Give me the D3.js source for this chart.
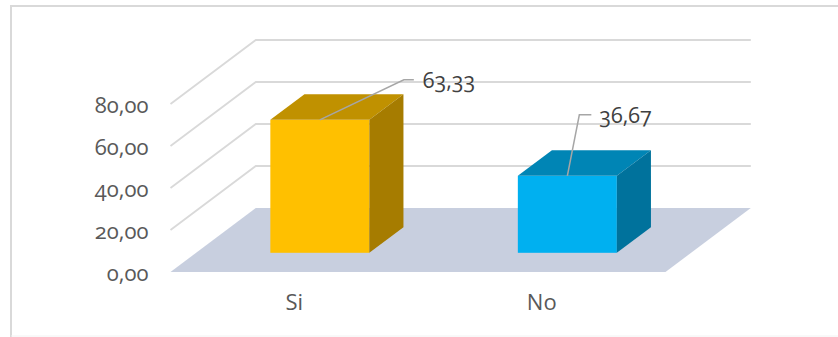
<!DOCTYPE html>
<html>
<head>
<meta charset="utf-8">
<script src="https://cdn.jsdelivr.net/npm/d3@7"></script>
<style>
  html, body { margin: 0; padding: 0; background: #fff; }
  svg { display: block; }
  text { font-family: "Open Sans", "Noto Sans", sans-serif; font-variant-numeric: oldstyle-nums; font-feature-settings: "onum"; }
</style>
</head>
<body>
<div id="bar_chart"></div>
<script>
const categories = ["Si", "No"];
const values = [63.33, 36.67];
const barColors = ["#ffc000", "#00b0f0"];
const barTopColors = ["#c09100", "#0085b5"];
const barSideColors = ["#a67c00", "#00729c"];
const yTicks = [0, 20, 40, 60, 80];

const w = 838, h = 337;

// floor corner and the depth vector of the 3d box
const left = 170.5, right = 665.5, base = 272, top80 = 104;
const depthX = 85.3, depthY = -64;
const barShift = 0.3, barDepth = 0.4;

const svg = d3.select("#bar_chart").append("svg")
  .attr("width", w)
  .attr("height", h);

// chart frame
svg.append("path")
  .attr("d", "M11,337V6H838")
  .attr("fill", "none")
  .attr("stroke", "#d9d9d9")
  .attr("stroke-width", 2);
svg.append("line")
  .attr("x1", 11).attr("x2", w)
  .attr("y1", 336).attr("y2", 336)
  .attr("stroke", "#f2f2f2");

const x = d3.scaleBand().domain(categories).range([left, right]);
const y = d3.scaleLinear().domain([0, 80]).range([base, top80]);
const barWidth = x.bandwidth() / 2.5;

const comma = d3.formatLocale({ decimal: ",", thousands: ".", grouping: [3], currency: ["", ""] });
const fmt = comma.format(".2f");

// floor
svg.append("path")
  .attr("d", d3.line()([
    [left, base], [left + depthX, base + depthY],
    [right + depthX, base + depthY], [right, base]
  ]) + "Z")
  .attr("fill", "#c8cfdf");

// side wall and back wall gridlines
const grid = svg.append("g")
  .attr("fill", "none")
  .attr("stroke", "#d9d9d9")
  .attr("stroke-width", 1.8);

grid.selectAll("path")
  .data(yTicks.filter(d => d > 0))
  .join("path")
  .attr("d", d => d3.line()([
    [left, y(d)], [left + depthX, y(d) + depthY], [right + depthX, y(d) + depthY]
  ]));

// y axis
const yAxis = d3.axisLeft(y).tickValues(yTicks).tickFormat(fmt).tickSize(0).tickPadding(22);
const yG = svg.append("g")
  .attr("transform", `translate(${left},1)`)
  .call(yAxis);
yG.select(".domain").remove();
yG.selectAll("text")
  .attr("font-size", 22)
  .attr("fill", "#595959");

// x axis
const xAxis = d3.axisBottom(x).tickSize(0).tickPadding(22);
const xG = svg.append("g")
  .attr("transform", `translate(0,${base})`)
  .call(xAxis);
xG.select(".domain").remove();
xG.selectAll("text")
  .attr("font-size", 22)
  .attr("fill", "#595959");

// boxes
const rows = categories.map((c, i) => ({ c, v: values[i], i }));
const dx = depthX * barDepth, dy = depthY * barDepth;
const bars = svg.selectAll(".bar")
  .data(rows)
  .join("g")
  .attr("class", "bar")
  .attr("transform", d => `translate(${x(d.c) + (x.bandwidth() - barWidth) / 2 + depthX * barShift},${depthY * barShift})`);

bars.append("rect")
  .attr("x", 0)
  .attr("y", d => y(d.v))
  .attr("width", barWidth)
  .attr("height", d => y(0) - y(d.v))
  .attr("fill", d => barColors[d.i]);

bars.append("path")
  .attr("d", d => d3.line()([
    [0, y(d.v)], [dx, y(d.v) + dy], [barWidth + dx, y(d.v) + dy], [barWidth, y(d.v)]
  ]) + "Z")
  .attr("fill", d => barTopColors[d.i]);

bars.append("path")
  .attr("d", d => d3.line()([
    [barWidth, y(d.v)], [barWidth + dx, y(d.v) + dy], [barWidth + dx, y(0) + dy], [barWidth, y(0)]
  ]) + "Z")
  .attr("fill", d => barSideColors[d.i]);

// leader lines and value labels
const leaders = [
  { elbow: [84, -40], end: [94, -40], label: [103, -32] },
  { elbow: [12, -61], end: [24, -61], label: [32, -53] }
];

const labels = svg.selectAll(".value")
  .data(rows)
  .join("g")
  .attr("class", "value")
  .attr("transform", d => `translate(${x(d.c) + x.bandwidth() / 2 + depthX * barShift},${y(d.v) + depthY * barShift})`);

labels.append("path")
  .attr("d", d => d3.line()([[0, 0], leaders[d.i].elbow, leaders[d.i].end]))
  .attr("fill", "none")
  .attr("stroke", "#a6a6a6")
  .attr("stroke-width", 1.5);

labels.append("text")
  .attr("x", d => leaders[d.i].label[0])
  .attr("y", d => leaders[d.i].label[1])
  .attr("font-size", 21.5)
  .attr("fill", "#404040")
  .text(d => fmt(d.v));
</script>
</body>
</html>
